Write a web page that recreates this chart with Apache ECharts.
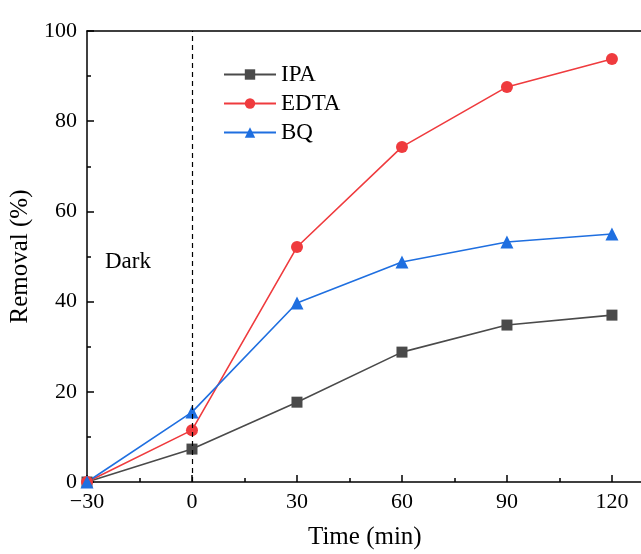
<!DOCTYPE html>
<html>
<head>
<meta charset="utf-8">
<script src="https://cdn.jsdelivr.net/npm/echarts@6/dist/echarts.min.js"></script>
<style>
  html, body { margin: 0; padding: 0; background: #fff; overflow: hidden; }
  /* slightly wider than the window: the right end of the frame is cut off, as in the figure */
  #chart { width: 646px; height: 554px; }
</style>
</head>
<body>
<div id="chart"></div>
<script>
// data
const times = [-30, 0, 30, 60, 90, 120];
const ipa = [0, 7.3, 17.7, 28.8, 34.8, 37.0];
const edta = [0, 11.5, 52.1, 74.3, 87.6, 93.8];
const bq = [0, 15.5, 39.7, 48.8, 53.2, 55.0];
const seriesNames = ['IPA', 'EDTA', 'BQ'];

const font = 'Liberation Serif';

function pairs(vals) {
    return times.map(function (t, i) { return [t, vals[i]]; });
}

const chart = echarts.init(document.getElementById('chart'));

const axisLineStyle = { color: '#000', width: 1.5 };
const xMax = 128.3 + 5 / 3.5;

let option = {
    animation: false,
    textStyle: { fontFamily: font },
    grid: {
        left: 87, right: 0, top: 31, bottom: 72
    },
    legend: {
        orient: 'vertical',
        left: 218, top: 58,
        itemWidth: 52, itemHeight: 13, itemGap: 6,
        textStyle: { fontFamily: font, fontSize: 23, color: '#000' },
        data: seriesNames
    },
    xAxis: [
        {
            type: 'value',
            min: -30, max: xMax, interval: 30,
            axisLine: { onZero: false, lineStyle: axisLineStyle },
            axisTick: { inside: true, length: 7, lineStyle: axisLineStyle },
            minorTick: { show: true, splitNumber: 2, length: 4, lineStyle: axisLineStyle },
            axisLabel: {
                showMaxLabel: false, margin: 9,
                fontFamily: font, fontSize: 22, color: '#000',
                formatter: function (v) { return v < 0 ? '\u2212' + (-v) : String(v); }
            },
            splitLine: { show: false }
        },
        {
            // top frame line
            type: 'value', position: 'top',
            min: -30, max: xMax,
            axisLine: { onZero: false, lineStyle: axisLineStyle },
            axisTick: { show: false },
            axisLabel: { show: false },
            splitLine: { show: false }
        }
    ],
    yAxis: {
        type: 'value',
        min: 0, max: 100, interval: 20,
        name: 'Removal (%)',
        nameLocation: 'middle', nameGap: 52,
        nameTextStyle: { fontFamily: font, fontSize: 25, color: '#000' },
        axisLine: { onZero: false, lineStyle: axisLineStyle },
        axisTick: { inside: true, length: 7, lineStyle: axisLineStyle },
        minorTick: { show: true, splitNumber: 2, length: 4, lineStyle: axisLineStyle },
        axisLabel: { margin: 10, fontFamily: font, fontSize: 22, color: '#000' },
        splitLine: { show: false }
    },
    graphic: [
        {
            type: 'text', left: 105, top: 250,
            style: { text: 'Dark', fontFamily: font, fontSize: 23, fill: '#000' }
        },
        {
            type: 'text', left: 308, top: 525,
            style: { text: 'Time (min)', fontFamily: font, fontSize: 25, fill: '#000' }
        }
    ],
    series: [
        {
            name: 'IPA', type: 'line', data: pairs(ipa),
            symbol: 'rect', symbolSize: 11,
            color: '#4a4a4a', lineStyle: { width: 1.6 },
            markLine: {
                silent: true, symbol: 'none', label: { show: false },
                lineStyle: { type: [5, 4], color: '#000', width: 1.2 },
                emphasis: { disabled: true },
                data: [{ xAxis: 0 }]
            }
        },
        {
            name: 'EDTA', type: 'line', data: pairs(edta),
            symbol: 'circle', symbolSize: 12,
            color: '#ef3b3e', lineStyle: { width: 1.6 }
        },
        {
            name: 'BQ', type: 'line', data: pairs(bq),
            symbol: 'triangle', symbolSize: 13,
            color: '#1f6fe0', lineStyle: { width: 1.6 }
        }
    ]
};

chart.setOption(option);
</script>
</body>
</html>
